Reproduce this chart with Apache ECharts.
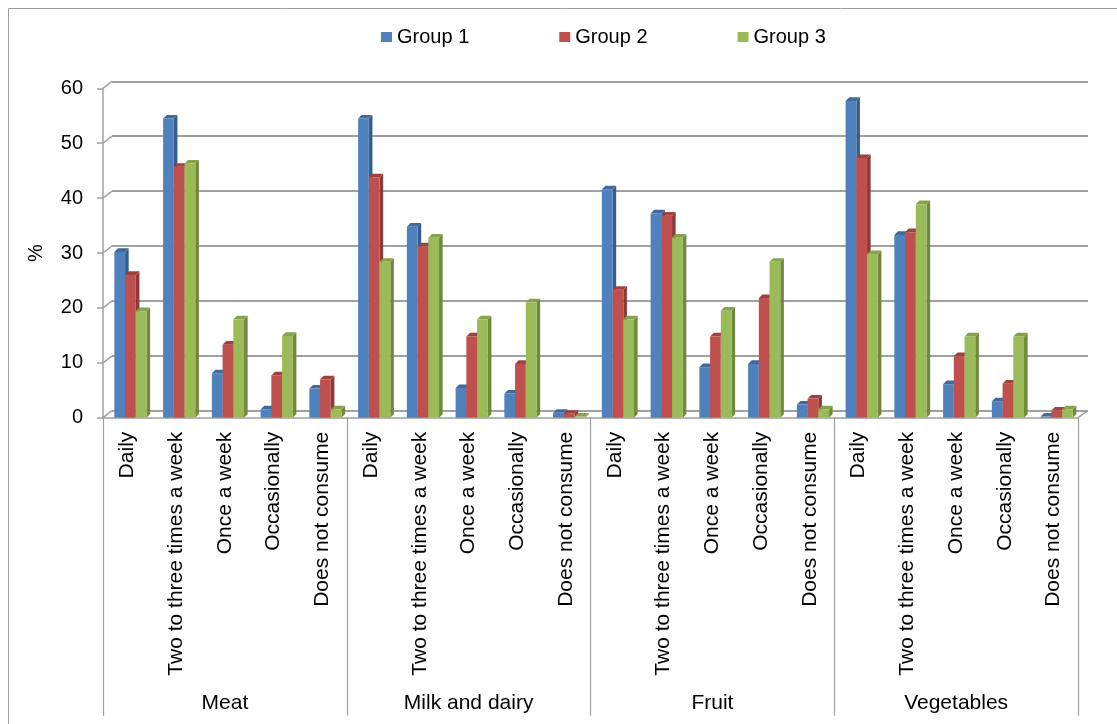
<!DOCTYPE html>
<html>
<head>
<meta charset="utf-8">
<script src="https://cdn.jsdelivr.net/npm/echarts@6/dist/echarts.min.js"></script>
<style>html,body{margin:0;padding:0;background:#fff;}#c{width:1117px;height:724px;}</style>
</head>
<body>
<div id="c"></div>
<script>
// ---- data ----
var frequencies = ['Daily', 'Two to three times a week', 'Once a week', 'Occasionally', 'Does not consume'];
var foodGroups = ['Meat', 'Milk and dairy', 'Fruit', 'Vegetables'];
var seriesNames = ['Group 1', 'Group 2', 'Group 3'];
var group1 = [30.2, 54.5, 8.1, 1.5, 5.3,   54.5, 34.8, 5.4, 4.4, 0.9,   41.6, 37.2, 9.2, 9.8, 2.4,   57.7, 33.3, 6.1, 3.0, 0.2];
var group2 = [26.0, 45.7, 13.3, 7.7, 7.0,  43.8, 31.2, 14.8, 9.8, 0.7,  23.3, 36.8, 14.8, 21.8, 3.5,  47.3, 33.8, 11.2, 6.2, 1.3];
var group3 = [19.4, 46.3, 17.9, 14.9, 1.5, 28.4, 32.8, 17.9, 21.0, 0.2, 17.9, 32.8, 19.5, 28.4, 1.5, 29.8, 38.9, 14.8, 14.8, 1.5];
var yTicks = [0, 10, 20, 30, 40, 50, 60];

// ---- build ----
var xCategories = [];
foodGroups.forEach(function () { frequencies.forEach(function (f) { xCategories.push(f); }); });

var palettes = [
  { front: '#4F81BD', side: '#385D8A', top: '#40699C' },
  { front: '#C0504D', side: '#8C3A38', top: '#A0413F' },
  { front: '#9BBB59', side: '#71893F', top: '#86A34B' }
];
var FONT = 'Liberation Sans, Arial, sans-serif';
var GRID = '#a0a0a0';

function makeRender(si) {
  var pal = palettes[si];
  return function (params, api) {
    var i = api.value(0), v = api.value(1);
    var pTop = api.coord([i, v]);
    var pBase = api.coord([i, 0]);
    var band = api.size([1, 0])[0];
    var bw = band * 0.22;
    var x0 = pTop[0] - band * 0.267 + si * bw;
    var x1 = x0 + bw;
    var yT = pTop[1], yB = pBase[1];
    var dx = 3.6, dy = 3.6;
    return {
      type: 'group',
      children: [
        { type: 'polygon', shape: { points: [[x1, yT], [x1 + dx, yT - dy], [x1 + dx, yB - dy], [x1, yB]] }, style: { fill: pal.side } },
        { type: 'polygon', shape: { points: [[x0, yT], [x0 + dx, yT - dy], [x1 + dx, yT - dy], [x1, yT]] }, style: { fill: pal.top } },
        { type: 'rect', shape: { x: x0, y: yT, width: bw, height: Math.max(yB - yT, 0) }, style: { fill: pal.front } }
      ]
    };
  };
}

function frameRender(params, api) {
  var v = api.value(1);
  var p = api.coord([0, v]);
  var band = api.size([1, 0])[0];
  var xL = p[0] - band / 2;
  var children = [
    { type: 'line', shape: { x1: xL, y1: p[1], x2: xL + 9, y2: p[1] - 7 }, style: { stroke: GRID, lineWidth: 1.5 } }
  ];
  if (v === 0) {
    var pr = api.coord([xCategories.length - 1, 0]);
    var xR = pr[0] + band / 2;
    children.push({ type: 'line', shape: { x1: xR, y1: pr[1], x2: xR + 10, y2: pr[1] - 7 }, style: { stroke: GRID, lineWidth: 1.5 } });
  }
  return { type: 'group', children: children };
}

var seriesData = [group1, group2, group3];
var series = seriesData.map(function (arr, si) {
  return {
    name: seriesNames[si],
    type: 'custom',
    xAxisIndex: 0, yAxisIndex: 0,
    renderItem: makeRender(si),
    itemStyle: { color: palettes[si].front },
    data: arr.map(function (v, i) { return [i, v]; }),
    z: 3
  };
});
series.unshift({
  name: 'frame',
  type: 'custom',
  xAxisIndex: 0, yAxisIndex: 0,
  renderItem: frameRender,
  data: yTicks.map(function (v) { return [0, v]; }),
  silent: true,
  z: 1
});

var chart = echarts.init(document.getElementById('c'), null, { renderer: 'canvas' });
chart.setOption({
  animation: false,
  backgroundColor: '#fff',
  textStyle: { fontFamily: FONT },
  graphic: [
    { type: 'rect', shape: { x: 8.5, y: 8.5, width: 1130, height: 740 }, style: { fill: 'none', stroke: '#a0a0a0', lineWidth: 1 }, silent: true }
  ],
  legend: {
    data: seriesNames,
    left: 376, top: 22,
    icon: 'rect',
    itemWidth: 11, itemHeight: 10,
    itemGap: 90,
    textStyle: { fontSize: 20, color: '#000', fontFamily: FONT }
  },
  grid: [
    { left: 103, right: 39, top: 88.3, bottom: 306.3 },   // front (bars)
    { left: 112, right: 29, top: 81.3, bottom: 313.3 },   // back wall (gridlines)
    { left: 103, right: 39, top: 88.3, bottom: 306.3 }    // group separators
  ],
  xAxis: [
    {
      gridIndex: 0, type: 'category', data: xCategories, boundaryGap: true,
      axisLine: { show: true, lineStyle: { color: GRID, width: 1.5 } },
      axisTick: { show: false },
      axisLabel: { interval: 0, rotate: 90, margin: 14, fontSize: 21, color: '#000', fontFamily: FONT },
      splitLine: { show: false }
    },
    {
      gridIndex: 1, type: 'value', min: 0, max: 1, show: false
    },
    {
      gridIndex: 2, type: 'category', data: foodGroups, boundaryGap: true, position: 'bottom',
      axisLine: { show: false },
      axisTick: { show: true, interval: 0, length: 298, lineStyle: { color: GRID, width: 1.2 } },
      axisLabel: { interval: 0, margin: 275, fontSize: 21, color: '#000', fontFamily: FONT },
      splitLine: { show: false }
    }
  ],
  yAxis: [
    {
      gridIndex: 0, type: 'value', min: 0, max: 60, interval: 10,
      name: '%', nameLocation: 'middle', nameGap: 57, nameRotate: 90,
      nameTextStyle: { fontSize: 20, color: '#000', fontFamily: FONT },
      axisLine: { show: true, lineStyle: { color: GRID, width: 1.5 } },
      axisTick: { show: true, length: 6, lineStyle: { color: GRID, width: 1.5 } },
      axisLabel: { margin: 20, fontSize: 20, color: '#000', fontFamily: FONT },
      splitLine: { show: false }
    },
    {
      gridIndex: 1, type: 'value', min: 0, max: 60, interval: 10,
      axisLine: { show: false }, axisTick: { show: false }, axisLabel: { show: false },
      splitLine: { show: true, lineStyle: { color: GRID, width: 2 } }
    },
    {
      gridIndex: 2, type: 'value', min: 0, max: 60, show: false
    }
  ],
  series: series
});
</script>
</body>
</html>
